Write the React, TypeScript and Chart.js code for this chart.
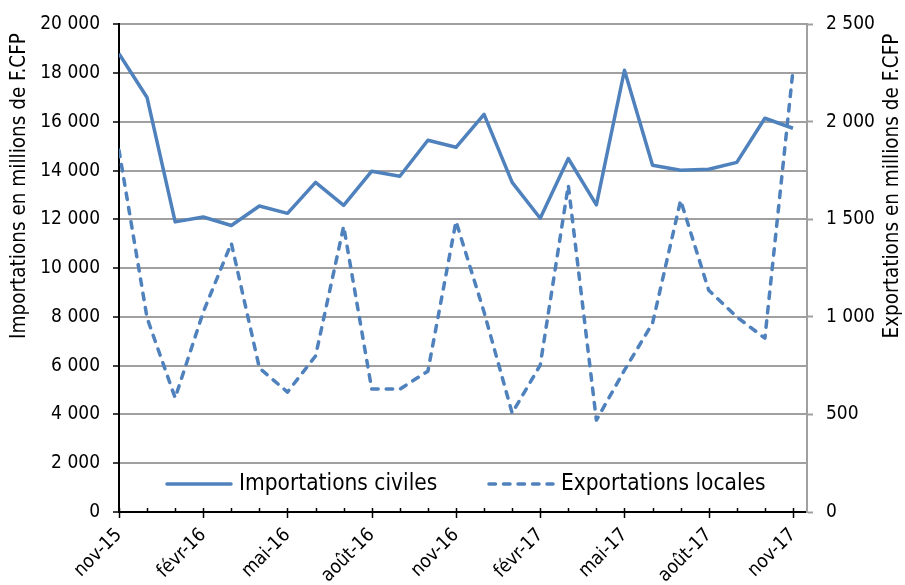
import React, { useEffect, useRef } from 'react';
import { Chart, registerables } from 'chart.js';

Chart.register(...registerables);

const months = [
  'nov-15', 'déc-15', 'janv-16', 'févr-16', 'mars-16', 'avr-16', 'mai-16', 'juin-16', 'juil-16',
  'août-16', 'sept-16', 'oct-16', 'nov-16', 'déc-16', 'janv-17', 'févr-17', 'mars-17', 'avr-17',
  'mai-17', 'juin-17', 'juil-17', 'août-17', 'sept-17', 'oct-17', 'nov-17',
];

const importations = [
  18800, 17000, 11900, 12100, 11750, 12550, 12250, 13520, 12580, 13980, 13770, 15250, 14960,
  16310, 13520, 12050, 14500, 12600, 18120, 14220, 14020, 14060, 14340, 16150, 15740,
];

const exportations = [
  1855, 995, 585, 1025, 1378, 738, 615, 800, 1465, 630, 630, 722, 1490,
  1025, 507, 753, 1675, 471, 727, 968, 1598, 1137, 1000, 891, 2264,
];

const leftTitle = 'Importations en millions de F.CFP';
const rightTitle = 'Exportations en millions de F.CFP';
const seriesNames = ['Importations civiles', 'Exportations locales'];

const FONT = '"DejaVu Sans Condensed", "DejaVu Sans", sans-serif';
const BLUE = '#4F81BD';
const GRID = '#a0a0a0';

const fmt = (v: number) => String(v).replace(/\B(?=(\d{3})+(?!\d))/g, ' ');

const decor = {
  id: 'decor',
  afterDraw(chart: any) {
    const ctx = chart.ctx;
    const xs = chart.scales.x;
    const area = chart.chartArea;
    ctx.save();
    // x-axis tick marks (major crossing, minor inside)
    ctx.strokeStyle = '#000';
    ctx.lineWidth = 1.5;
    for (let i = 0; i < months.length; i++) {
      const x = Math.round(xs.getPixelForValue(i)) + 0.5;
      ctx.beginPath();
      if (i % 3 === 0) {
        ctx.moveTo(x, area.bottom - 4);
        ctx.lineTo(x, area.bottom + 6);
      } else {
        ctx.moveTo(x, area.bottom - 4);
        ctx.lineTo(x, area.bottom);
      }
      ctx.stroke();
    }
    // axis titles
    ctx.fillStyle = '#000';
    ctx.font = `20.5px ${FONT}`;
    ctx.textAlign = 'center';
    ctx.textBaseline = 'middle';
    ctx.save();
    ctx.translate(20, 186);
    ctx.rotate(-Math.PI / 2);
    ctx.fillText(leftTitle, 0, 0);
    ctx.restore();
    ctx.save();
    ctx.translate(893, 186);
    ctx.rotate(-Math.PI / 2);
    ctx.fillText(rightTitle, 0, 0);
    ctx.restore();
    // legend
    const ly = 484;
    ctx.strokeStyle = BLUE;
    ctx.lineWidth = 3.5;
    ctx.lineCap = 'round';
    ctx.beginPath();
    ctx.moveTo(167, ly);
    ctx.lineTo(231, ly);
    ctx.stroke();
    ctx.setLineDash([6.5, 8]);
    ctx.beginPath();
    ctx.moveTo(489, ly);
    ctx.lineTo(553, ly);
    ctx.stroke();
    ctx.setLineDash([]);
    ctx.font = `22.5px ${FONT}`;
    ctx.textAlign = 'left';
    ctx.fillText(seriesNames[0], 239, ly);
    ctx.fillText(seriesNames[1], 561, ly);
    ctx.restore();
  },
};

export default function App() {
  const ref = useRef<HTMLCanvasElement>(null);
  useEffect(() => {
    if (!ref.current) return;
    const chart = new Chart(ref.current, {
      type: 'line',
      data: {
        datasets: [
          {
            label: seriesNames[0],
            data: importations.map((v, i) => ({ x: i, y: v })),
            borderColor: BLUE,
            borderWidth: 3.5,
            pointRadius: 0,
            tension: 0,
            yAxisID: 'y',
            borderJoinStyle: 'round',
          },
          {
            label: seriesNames[1],
            data: exportations.map((v, i) => ({ x: i, y: v })),
            borderColor: BLUE,
            borderWidth: 3.5,
            borderDash: [6.5, 8],
            borderCapStyle: 'round',
            pointRadius: 0,
            tension: 0,
            yAxisID: 'y1',
            borderJoinStyle: 'round',
          },
        ],
      },
      options: {
        responsive: false,
        animation: false,
        layout: { padding: { top: 24, left: 0, right: 0, bottom: 0 } },
        plugins: { legend: { display: false }, tooltip: { enabled: false } },
        scales: {
          x: {
            type: 'linear',
            min: 0,
            max: 24.5,
            afterBuildTicks: (s: any) => {
              s.ticks = months.map((_, i) => ({ value: i })).filter((t) => t.value % 3 === 0);
            },
            afterFit: (s: any) => {
              s.height = 73;
            },
            ticks: {
              autoSkip: false,
              maxRotation: 45,
              minRotation: 45,
              padding: 6,
              color: '#000',
              font: { family: FONT, size: 19 },
              callback: (v: any) => months[v] ?? '',
            },
            grid: { display: true, drawOnChartArea: false, drawTicks: true, tickLength: 6, tickColor: 'rgba(0,0,0,0)' },
            border: { color: '#000', width: 2 },
          },
          y: {
            position: 'left',
            min: 0,
            max: 20000,
            afterFit: (s: any) => {
              s.width = 119;
            },
            ticks: {
              stepSize: 2000,
              padding: 13,
              color: '#000',
              font: { family: FONT, size: 19 },
              callback: (v: any) => fmt(v),
            },
            grid: { color: GRID, lineWidth: 2, tickColor: '#000', tickLength: 6, tickWidth: 1.5 },
            border: { color: '#000', width: 2 },
          },
          y1: {
            position: 'right',
            min: 0,
            max: 2500,
            afterFit: (s: any) => {
              s.width = 98;
            },
            ticks: {
              stepSize: 500,
              padding: 13,
              color: '#000',
              font: { family: FONT, size: 19 },
              callback: (v: any) => fmt(v),
            },
            grid: { drawOnChartArea: false, tickColor: GRID, tickLength: 6, tickWidth: 2 },
            border: { color: GRID, width: 2 },
          },
        },
      },
      plugins: [decor],
    } as any);
    return () => chart.destroy();
  }, []);
  return (
    <div style={{ position: 'fixed', left: 0, top: 0, width: 905, height: 585, background: '#fff' }}>
      <canvas ref={ref} width={905} height={585} style={{ display: 'block' }} />
    </div>
  );
}
